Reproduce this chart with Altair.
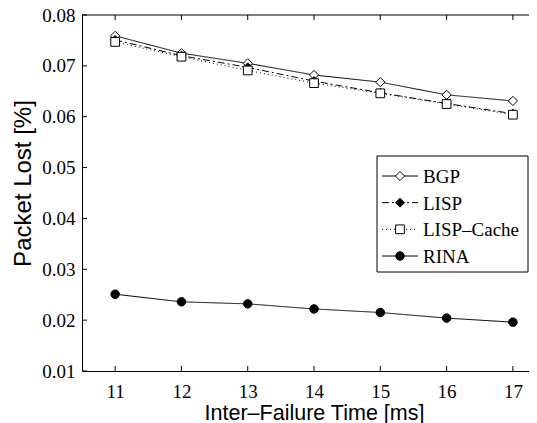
import altair as alt
import pandas as pd

# ---- data ----
inter_failure = [11, 12, 13, 14, 15, 16, 17]
bgp = [0.0759, 0.0725, 0.0705, 0.0682, 0.0668, 0.0643, 0.0631]
lisp = [0.0751, 0.0720, 0.0697, 0.0670, 0.0647, 0.0626, 0.0606]
lisp_cache = [0.0747, 0.0718, 0.0691, 0.0666, 0.0646, 0.0625, 0.0604]
rina = [0.0251, 0.0236, 0.0232, 0.0222, 0.0215, 0.0204, 0.0196]

series_names = ["BGP", "LISP", "LISP–Cache", "RINA"]
x_ticks = [11, 12, 13, 14, 15, 16, 17]
y_ticks = [0.01, 0.02, 0.03, 0.04, 0.05, 0.06, 0.07, 0.08]

# ---- styles ----
dash_styles = [[1, 0], [7, 3, 2, 3], [1, 3], [1, 0]]
marker_shapes = ["diamond", "diamond", "square", "circle"]
marker_fills = ["white", "black", "white", "black"]
marker_sizes = [85, 72, 55, 88]

rows = []
for name, vals in zip(series_names, [bgp, lisp, lisp_cache, rina]):
    for xv, yv in zip(inter_failure, vals):
        rows.append({"series": name, "x": xv, "y": yv})
df = pd.DataFrame(rows)

W, H = 447, 356
xscale = alt.Scale(domain=[10.5, 17.243], nice=False, zero=False)
yscale = alt.Scale(domain=[0.01, 0.08], nice=False, zero=False)
sdash = alt.Scale(domain=series_names, range=dash_styles)
sshape = alt.Scale(domain=series_names, range=marker_shapes)
sfill = alt.Scale(domain=series_names, range=marker_fills)
ssize = alt.Scale(domain=series_names, range=marker_sizes)

common = dict(grid=False, ticks=False, tickSize=0, domain=True, domainColor="black",
              domainWidth=1, labelFont="Liberation Serif", labelFontSize=19,
              labelColor="black", titleFont="Liberation Sans",
              titleFontWeight="normal", titleColor="black")

xaxis = alt.Axis(values=x_ticks, title="Inter–Failure Time [ms]", format="d",
                 labelPadding=11, titleX=232, titleY=48, titleBaseline="alphabetic",
                 titleAnchor="middle", titleAlign="center", titleFontSize=21.5,
                 **common)
yaxis = alt.Axis(values=y_ticks, format=".2f", title="Packet Lost [%]",
                 labelPadding=7, titleX=-59, titleY=168, titleAngle=270,
                 titleBaseline="middle", titleAlign="center", titleFontSize=24,
                 **common)

xenc = alt.X("x:Q", scale=xscale, axis=xaxis)

lines = alt.Chart(df).mark_line(color="black", strokeWidth=1, clip=True).encode(
    x=xenc,
    y=alt.Y("y:Q", scale=yscale, axis=yaxis),
    strokeDash=alt.StrokeDash("series:N", scale=sdash, legend=None),
    detail="series:N",
)

points = alt.Chart(df).mark_point(filled=True, stroke="black", strokeWidth=1,
                                   opacity=1, clip=True).encode(
    x=xenc,
    y=alt.Y("y:Q", scale=yscale, axis=None),
    shape=alt.Shape("series:N", scale=sshape, legend=None),
    fill=alt.Fill("series:N", scale=sfill, legend=None),
    size=alt.Size("series:N", scale=ssize, legend=None),
)

# inward ticks
xt_df = pd.DataFrame({"x": x_ticks})
yt_df = pd.DataFrame({"y": y_ticks})
xt_bottom = alt.Chart(xt_df).mark_rule(color="black", strokeWidth=1).encode(
    x=xenc, y=alt.value(H), y2=alt.value(H - 5))
xt_top = alt.Chart(xt_df).mark_rule(color="black", strokeWidth=1).encode(
    x=xenc, y=alt.value(0), y2=alt.value(5))
yt_left = alt.Chart(yt_df).mark_rule(color="black", strokeWidth=1).encode(
    y=alt.Y("y:Q", scale=yscale, axis=None), x=alt.value(0), x2=alt.value(5))

one = pd.DataFrame({"k": [0]})
top_border = alt.Chart(one).mark_rule(color="black", strokeWidth=1).encode(
    x=alt.value(0), x2=alt.value(W), y=alt.value(0))

# legend
leg_df = pd.DataFrame({"series": series_names})
leg_y = alt.Y("series:N", scale=alt.Scale(type="point", domain=series_names,
                                          range=[161, 241], padding=0), axis=None)
leg_box = alt.Chart(one).mark_rect(fill="white", stroke="black", strokeWidth=1).encode(
    x=alt.value(295), x2=alt.value(446), y=alt.value(141), y2=alt.value(257))
leg_lines = alt.Chart(leg_df).mark_rule(color="black", strokeWidth=1).encode(
    x=alt.value(300), x2=alt.value(336), y=leg_y,
    strokeDash=alt.StrokeDash("series:N", scale=sdash, legend=None))
leg_pts = alt.Chart(leg_df).mark_point(filled=True, stroke="black", strokeWidth=1,
                                        opacity=1).encode(
    x=alt.value(318), y=leg_y,
    shape=alt.Shape("series:N", scale=sshape, legend=None),
    fill=alt.Fill("series:N", scale=sfill, legend=None),
    size=alt.Size("series:N", scale=ssize, legend=None))
leg_text = alt.Chart(leg_df).mark_text(align="left", baseline="middle",
                                        font="Liberation Serif", fontSize=19,
                                        color="black", dy=1).encode(
    x=alt.value(341), y=leg_y, text="series:N")

chart = alt.layer(
    lines, points, xt_bottom, xt_top, yt_left, top_border,
    leg_box, leg_lines, leg_pts, leg_text
).resolve_scale(
    y="independent", strokeDash="independent", shape="independent",
    fill="independent", size="independent"
).properties(
    width=W, height=H,
    autosize=alt.AutoSizeParams(type="none"),
    padding={"left": 74, "top": 7, "right": 0, "bottom": 52},
).configure_view(
    stroke=None
).configure_axis(**common)

chart.save("out.html", embed_options={"renderer": "svg", "actions": False})
